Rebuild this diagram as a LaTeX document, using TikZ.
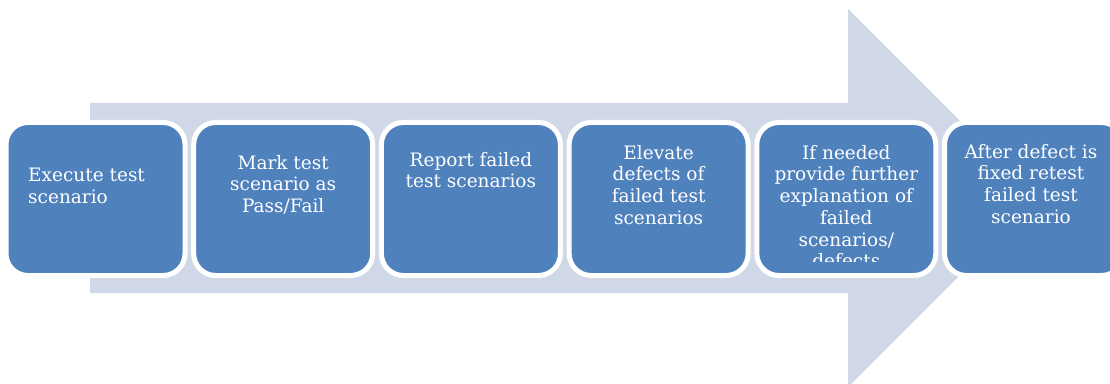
\documentclass[tikz,border=0pt]{standalone}
\usepackage{fontspec}
\setmainfont{DejaVu Serif}
\usepackage{xcolor}
\usetikzlibrary{positioning}
\definecolor{stepblue}{HTML}{4F81BD}
\definecolor{arrowgray}{HTML}{D0D8E8}

\begin{document}
\begin{tikzpicture}[x=1pt, y=1pt,
        stepbox/.style={rectangle, rounded corners=22pt, fill=stepblue, draw=white,
            line width=5pt, minimum width=179pt, minimum height=153pt, inner sep=0pt},
        steptext/.style={text=white, align=center, inner sep=0pt,
            font=\fontsize{18.5}{21.7}\selectfont}]
        \useasboundingbox (0,0) rectangle (1110,383);
        \fill[color=arrowgray] (90,90) -- (848,90) -- (848,-4) -- (1037,185)
            -- (848,374) -- (848,280) -- (90,280) -- cycle;
        \foreach \i in {1,...,6}
            \node[stepbox] (b\i) at ({95.5+187.7*(\i-1)},184) {};
        \node[steptext, align=left, below right=48pt and 24.5pt of b1.north west] (t1)
            {Execute test\\scenario};
        \node[steptext, below=35pt of b2.north] (t2) {Mark test\\scenario as\\Pass/Fail};
        \node[steptext, below=32pt of b3.north] (t3) {Report failed\\test scenarios};
        \node[steptext, below=25pt of b4.north] (t4)
            {Elevate\\defects of\\failed test\\scenarios};
        \begin{scope}
            \clip (b5.south west) ++(0,17) rectangle (b5.north east);
            \node[steptext, below=25pt of b5.north] (t5)
                {If needed\\provide further\\explanation of\\failed\\scenarios/\\defects};
        \end{scope}
        \node[steptext, below=24pt of b6.north, xshift=-3pt] (t6)
            {After defect is\\fixed retest\\failed test\\scenario};
    \end{tikzpicture}
\end{document}
